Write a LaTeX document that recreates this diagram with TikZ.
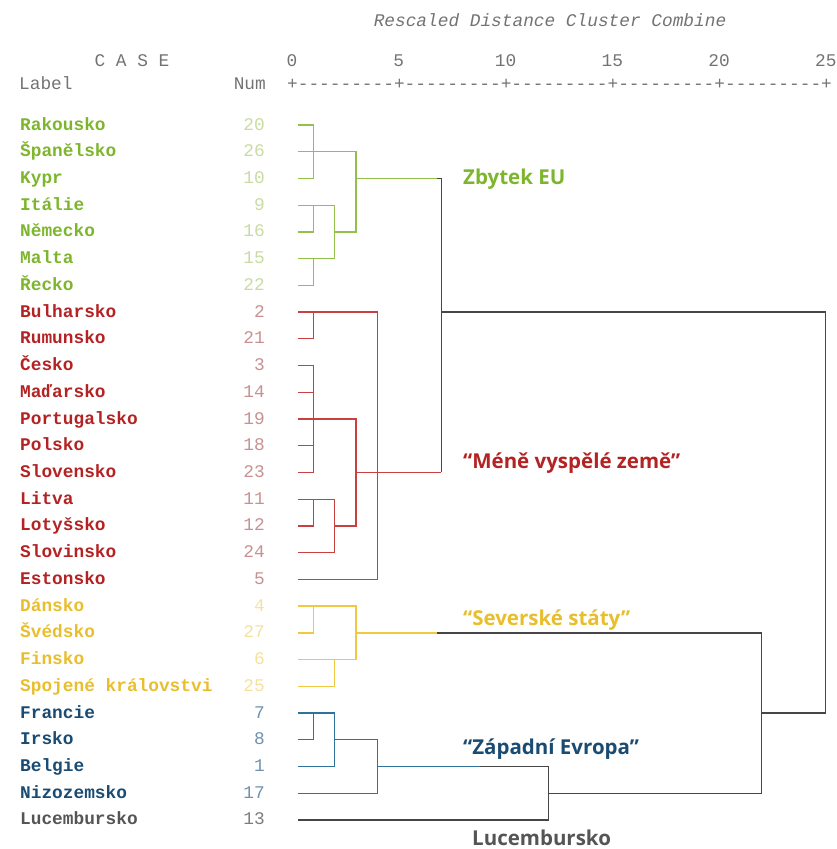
\documentclass[tikz,border=0pt]{standalone}
\usepackage{fontspec}
\setmonofont{Liberation Mono}
\newfontfamily\grpfont{Open Sans}
\usepackage{xcolor}

\definecolor{linegrn}{RGB}{145,192,75}
\definecolor{txtgrn}{RGB}{125,182,45}
\definecolor{numgrn}{RGB}{200,220,160}
\definecolor{linered}{RGB}{200,65,65}
\definecolor{txtred}{RGB}{180,35,35}
\definecolor{numred}{RGB}{200,145,145}
\definecolor{lineyel}{RGB}{240,200,65}
\definecolor{txtyel}{RGB}{232,190,45}
\definecolor{numyel}{RGB}{245,225,155}
\definecolor{lineblu}{RGB}{45,115,155}
\definecolor{txtblu}{RGB}{25,75,115}
\definecolor{numblu}{RGB}{110,145,175}
\definecolor{txtgry}{RGB}{85,85,85}
\definecolor{numgry}{RGB}{125,125,125}
\definecolor{linedark}{RGB}{70,70,70}
\definecolor{hdrgry}{RGB}{115,115,115}

\begin{document}
\begin{tikzpicture}[x=1pt,y=-1pt,
    mono/.style={font=\ttfamily\fontsize{17.8}{20}\selectfont, inner sep=0pt},
    case/.style={mono, font=\ttfamily\bfseries\fontsize{17.8}{20}\selectfont, anchor=base west},
    num/.style={mono, anchor=base east},
    hdr/.style={mono, text=hdrgry, anchor=base},
    group/.style={font=\grpfont\bfseries\fontsize{20.5}{22}\selectfont, inner sep=0pt, anchor=base west},
    lgrn/.style={draw=linegrn, line width=1.3pt},
    lred/.style={draw=linered, line width=1.3pt},
    lyel/.style={draw=lineyel, line width=1.3pt},
    lblu/.style={draw=lineblu, line width=1.3pt},
    ldark/.style={draw=linedark, line width=1.3pt}]

\useasboundingbox (0,0) rectangle (836,849);

% header
\node[hdr] (title) at (550,26) {\itshape Rescaled Distance Cluster Combine};
\node[hdr] (casehdr) at (132,66) {C A S E};
\node[hdr, anchor=base west] (labelhdr) at (19,89) {Label};
\node[hdr, anchor=base east] (numhdr) at (266,89) {Num};
\foreach \k in {0,5,10,15,20,25}
    \node[hdr] (tick\k) at ({292+21.35*\k},66) {\k};
\node[hdr, anchor=base west] (axis) at (287,89) {+---------+---------+---------+---------+---------+};

% cases
\foreach \i/\lab/\num/\c in {1/Rakousko/20/grn, 2/Španělsko/26/grn, 3/Kypr/10/grn,
    4/Itálie/9/grn, 5/Německo/16/grn, 6/Malta/15/grn, 7/Řecko/22/grn,
    8/Bulharsko/2/red, 9/Rumunsko/21/red, 10/Česko/3/red, 11/Maďarsko/14/red,
    12/Portugalsko/19/red, 13/Polsko/18/red, 14/Slovensko/23/red, 15/Litva/11/red,
    16/Lotyšsko/12/red, 17/Slovinsko/24/red, 18/Estonsko/5/red,
    19/Dánsko/4/yel, 20/Švédsko/27/yel, 21/Finsko/6/yel, 22/Spojené královstvi/25/yel,
    23/Francie/7/blu, 24/Irsko/8/blu, 25/Belgie/1/blu, 26/Nizozemsko/17/blu,
    27/Lucembursko/13/gry} {
    \node[case, text=txt\c] (lab\i) at (20,{130+(\i-1)*26.73}) {\lab};
    \node[num, text=num\c] (num\i) at (265,{130+(\i-1)*26.73}) {\num};
    \coordinate (r\i) at (298,{125+(\i-1)*26.73});
}

% levels on the distance scale
\foreach \k in {1,2,3,4,7,12,22,25}
    \coordinate (v\k) at ({292+21.35*\k},0);
\coordinate (fadeA) at (437,0);
\coordinate (fadeB) at (480,0);

% Zbytek EU
\draw[lgrn] (r1) -- (r1-|v1) -- (r3-|v1) -- (r3);
\draw[lgrn] (r2) -- (r2-|v3) -- (r5-|v3) -- (r5-|v2);
\draw[lgrn] (r4) -- (r4-|v2) -- (r6-|v2) -- (r6);
\draw[lgrn] (r5) -- (r5-|v1) -- (r4-|v1);
\draw[lgrn] (r7) -- (r7-|v1) -- (r6-|v1);
\draw[lgrn] (r3-|v3) -- (r3-|fadeA);

% mene vyspele zeme
\draw[lred] (r8) -- (r8-|v4) -- (r18-|v4) -- (r18);
\draw[lred] (r9) -- (r9-|v1) -- (r8-|v1);
\draw[lred] (r10) -- (r10-|v1) -- (r14-|v1) -- (r14);
\draw[lred] (r11) -- (r11-|v1);
\draw[lred] (r13) -- (r13-|v1);
\draw[lred] (r12) -- (r12-|v3) -- (r16-|v3) -- (r16-|v2);
\draw[lred] (r15) -- (r15-|v2) -- (r17-|v2) -- (r17);
\draw[lred] (r16) -- (r16-|v1) -- (r15-|v1);
\draw[lred] (r14-|v3) -- (r14-|v7);

% severske staty
\draw[lyel] (r19) -- (r19-|v3) -- (r21-|v3) -- (r21);
\draw[lyel] (r20) -- (r20-|v1) -- (r19-|v1);
\draw[lyel] (r22) -- (r22-|v2) -- (r21-|v2);
\draw[lyel] (r20-|v3) -- (r20-|fadeA);

% zapadni Evropa
\draw[lblu] (r23) -- (r23-|v2) -- (r25-|v2) -- (r25);
\draw[lblu] (r24) -- (r24-|v1) -- (r23-|v1);
\draw[lblu] (r24-|v2) -- (r24-|v4) -- (r26-|v4) -- (r26);
\draw[lblu] (r25-|v4) -- (r25-|fadeB);

% upper joins
\draw[ldark] (r3-|fadeA) -- (r3-|v7) -- (r14-|v7);
\draw[ldark] (r8-|v7) -- (r8-|v25) -- (r23-|v25) -- (r23-|v22);
\draw[ldark] (r20-|fadeA) -- (r20-|v22) -- (r26-|v22) -- (r26-|v12);
\draw[ldark] (r25-|fadeB) -- (r25-|v12) -- (r27-|v12) -- (r27);

% groups
\node[group, text=txtgrn] (zbytek) at (463,184) {Zbytek EU};
\node[group, text=txtred] (mene) at (463,468) {“Méně vyspělé země”};
\node[group, text=txtyel] (sever) at (463,625) {“Severské státy”};
\node[group, text=txtblu] (zapad) at (463,754) {“Západní Evropa”};
\node[group, text=txtgry] (lucem) at (472,845) {Lucembursko};

\end{tikzpicture}
\end{document}
